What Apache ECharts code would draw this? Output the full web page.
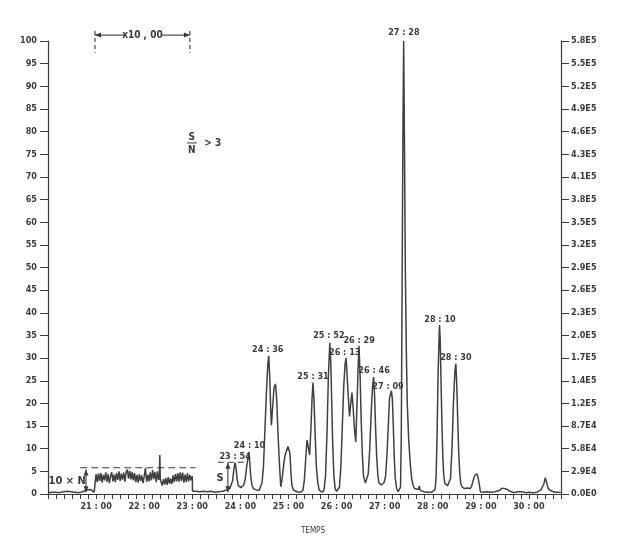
<!DOCTYPE html>
<html><head><meta charset="utf-8">
<script src="https://cdn.jsdelivr.net/npm/echarts@6/dist/echarts.min.js"></script>
<style>html,body{margin:0;padding:0;background:#ffffff;}#c{width:620px;height:547px;}</style>
</head><body><div id="c"></div>
<script>
// ---- data (time in minutes, relative abundance %) ----
const rightTickLabels = ['0.0E0','2.9E4','5.8E4','8.7E4','1.2E5','1.4E5','1.7E5','2.0E5','2.3E5','2.6E5','2.9E5','3.2E5','3.5E5','3.8E5','4.1E5','4.3E5','4.6E5','4.9E5','5.2E5','5.5E5','5.8E5'];

const baselineStart = [[20.00,0.3],[20.04,0.5],[20.08,0.4],[20.12,0.6],[20.16,0.4],[20.20,0.5],[20.24,0.3],[20.28,0.6],[20.32,0.5],[20.36,0.4],[20.40,0.6],[20.44,0.3],[20.48,0.5],[20.52,0.7],[20.56,0.4],[20.60,0.5],[20.64,0.3],[20.68,0.6],[20.72,0.5],[20.76,0.7],[20.80,0.9],[20.84,1.1],[20.88,1.0],[20.92,0.6],[20.96,0.4],[20.995,0.5]];

const noiseX10 = [[21.000,4.4],[21.025,2.6],[21.050,4.5],[21.075,2.9],[21.100,4.6],[21.125,2.5],[21.150,4.2],[21.175,3.0],[21.200,4.8],[21.225,2.7],[21.250,4.4],[21.275,2.4],[21.300,3.9],[21.325,4.8],[21.350,2.8],[21.375,4.3],[21.400,2.6],[21.425,4.6],[21.450,3.1],[21.475,5.0],[21.500,2.9],[21.525,4.5],[21.550,3.2],[21.575,4.7],[21.600,2.7],[21.625,4.9],[21.650,5.4],[21.675,3.4],[21.700,5.1],[21.725,3.2],[21.750,4.9],[21.775,3.0],[21.800,4.6],[21.825,2.6],[21.850,4.2],[21.875,2.5],[21.900,4.4],[21.925,2.9],[21.950,4.1],[21.975,2.4],[22.000,3.9],[22.025,5.7],[22.050,2.7],[22.075,4.3],[22.100,2.8],[22.125,4.8],[22.150,3.0],[22.175,5.3],[22.200,3.3],[22.225,4.9],[22.250,2.6],[22.275,5.0],[22.300,3.1],[22.315,4.0],[22.325,8.6],[22.335,3.2],[22.350,2.8],[22.375,1.9],[22.400,3.3],[22.425,2.1],[22.450,3.5],[22.475,2.0],[22.500,3.7],[22.525,2.3],[22.550,3.4],[22.575,2.2],[22.600,4.1],[22.625,2.6],[22.650,4.4],[22.675,2.8],[22.700,4.6],[22.725,2.7],[22.750,4.8],[22.775,2.9],[22.800,4.7],[22.825,2.5],[22.850,4.3],[22.875,2.6],[22.900,4.6],[22.925,2.8],[22.950,4.2],[22.975,3.0],[23.000,3.9],[23.005,0.6]];

const peaksTrace = [[23.03,0.4],[23.07,0.6],[23.11,0.4],[23.15,0.5],[23.19,0.3],[23.23,0.6],[23.27,0.4],[23.31,0.5],[23.35,0.4],[23.39,0.6],[23.43,0.5],[23.47,0.4],[23.51,0.6],[23.55,0.5],[23.59,0.7],[23.63,0.6],[23.67,0.8],[23.71,0.9],[23.75,1.0],[23.78,1.2],
[23.81,1.5],[23.84,3.0],[23.865,5.5],[23.89,6.9],[23.91,5.8],[23.93,3.5],[23.955,1.9],[23.98,1.5],[24.01,1.4],[24.04,1.6],[24.07,2.0],[24.10,3.2],[24.13,6.0],[24.175,9.0],[24.195,7.0],[24.215,4.0],[24.24,2.0],[24.27,1.2],[24.30,1.0],[24.33,0.9],[24.36,1.0],[24.39,0.8],[24.42,1.2],[24.45,2.5],
[24.48,6],[24.51,14],[24.54,22],[24.57,28.5],[24.59,30.5],[24.61,26],[24.63,19],[24.645,15.2],[24.67,19],[24.70,23.5],[24.73,24.3],[24.755,21],[24.78,14],[24.81,7],[24.84,1.6],[24.87,3.5],[24.90,6.5],[24.93,8.6],[24.96,9.0],[24.99,10.5],[25.01,10.8],[25.03,9.0],[25.05,5.0],[25.07,2.0],[25.10,0.9],[25.13,0.6],[25.17,0.5],[25.21,0.6],[25.25,0.4],[25.28,0.5],
[25.30,0.8],[25.33,3.0],[25.36,8.0],[25.385,11.9],[25.41,10.5],[25.44,8.6],[25.465,14],[25.49,21],[25.51,24.6],[25.53,21],[25.555,13],[25.58,6],[25.61,2.5],[25.64,0.8],[25.67,0.5],[25.71,0.4],[25.74,0.9],[25.77,4],[25.80,13],[25.83,26],[25.86,33.4],[25.88,29],[25.90,20],[25.92,11],[25.945,4],[25.97,1.2],[26.00,0.6],[26.03,0.5],
[26.06,1.5],[26.09,6],[26.12,15],[26.15,24],[26.18,29],[26.20,30.0],[26.235,23],[26.27,17.1],[26.30,20.5],[26.32,22.4],[26.345,19],[26.375,14],[26.40,11.5],[26.42,18],[26.445,27],[26.466,32.7],[26.49,26],[26.51,17],[26.535,9],[26.56,4],[26.60,2.4],[26.63,2.8],[26.66,4.5],[26.69,10],[26.72,18],[26.75,24],[26.77,25.8],[26.79,22],[26.81,15],[26.835,8],[26.86,4],[26.88,2.5],[26.93,2.0],[26.96,2.2],[26.99,2.6],
[27.02,4],[27.05,9],[27.08,16],[27.10,21],[27.12,22.0],[27.14,22.8],[27.16,21],[27.18,15],[27.20,8],[27.22,3.5],[27.25,1.2],[27.28,0.5],[27.31,0.5],[27.33,1.5],[27.345,12],[27.355,30],[27.365,50],[27.38,80],[27.395,100],[27.41,80],[27.43,50],[27.45,32],[27.47,20],[27.50,12],[27.53,7],[27.56,3.5],[27.59,2.0],[27.62,1.2],[27.65,0.9],[27.70,1.0],[27.72,1.8],[27.74,0.8],[27.78,0.4],[27.82,0.5],[27.86,0.3],[27.90,0.4],[27.94,0.5],[27.98,0.4],[28.02,0.5],
[28.05,1.0],[28.07,4],[28.09,13],[28.11,26],[28.13,34],[28.14,37.3],[28.155,34],[28.17,26],[28.19,16],[28.21,8],[28.23,4],[28.25,2.4],[28.28,2.2],[28.31,1.8],[28.34,2.2],[28.37,3.5],[28.40,10],[28.43,20],[28.46,27],[28.48,28.8],[28.50,24],[28.52,16],[28.54,9],[28.56,5],[28.58,2.5],[28.605,1.6],[28.63,1.4],[28.66,1.2],[28.69,1.5],[28.72,1.3],[28.75,1.0],[28.78,1.2],[28.81,1.8],[28.84,3.0],[28.87,4.0],[28.91,4.5],[28.94,3.8],[28.97,2.0],[28.99,0.5],
[29.01,0.4],[29.05,0.4],[29.09,0.3],[29.13,0.5],[29.17,0.3],[29.21,0.4],[29.25,0.3],[29.29,0.5],[29.33,0.4],[29.37,0.7],[29.41,1.0],[29.45,1.3],[29.49,1.4],[29.53,1.1],[29.57,0.8],[29.61,0.6],[29.65,0.5],[29.69,0.3],[29.73,0.4],[29.77,0.5],[29.81,0.3],[29.85,0.5],[29.89,0.4],[29.93,0.3],[29.97,0.5],[30.01,0.4],[30.05,0.5],[30.09,0.3],[30.13,0.5],[30.17,0.4],[30.21,0.6],[30.25,0.9],[30.28,1.3],[30.31,2.2],[30.34,3.6],[30.37,2.5],[30.40,1.2],[30.43,1.0],[30.46,0.7],[30.50,0.5],[30.54,0.4],[30.58,0.3],[30.62,0.4],[30.66,0.3]];

// peak retention-time labels: [text, time, value] (label centre)
const peakLabels = [['23 : 54',23.89,8.2],['24 : 10',24.19,10.6],['24 : 36',24.57,31.8],['25 : 31',25.51,25.8],['25 : 52',25.84,34.9],['26 : 13',26.17,31.3],['26 : 29',26.47,33.8],['26 : 46',26.78,27.2],['27 : 09',27.07,23.8],['27 : 28',27.40,101.8],['28 : 10',28.15,38.4],['28 : 30',28.48,30.2]];

const trace = baselineStart.concat(noiseX10, peaksTrace);

const INK = '#3a3a3a';
const FONT = "'DejaVu Sans Condensed','Liberation Sans Narrow','Roboto Condensed','DejaVu Sans',sans-serif";

const chart = echarts.init(document.getElementById('c'), null, {renderer:'canvas'});
const labelStyle = {color: INK, fontFamily: FONT, fontSize: 9, fontWeight: 'bold'};
chart.setOption({
  backgroundColor: '#ffffff',
  animation: false,
  grid: {left: 48, right: 59, top: 41, bottom: 53, containLabel: false},
  xAxis: {
    type: 'value', min: 20, max: 20 + 64/6, interval: 1/6,
    axisLine: {show: true, onZero: false, lineStyle: {color: INK, width: 1.2}},
    axisTick: {show: true, length: 5, inside: false, lineStyle: {color: INK, width: 1}},
    splitLine: {show: false},
    axisLabel: Object.assign({margin: 8, interval: 0, showMinLabel: true, showMaxLabel: true,
      formatter: function (v) {
        const r = Math.round(v);
        if (Math.abs(v - r) < 0.01 && r > 20 && r <= 30) return r + ' : 00';
        return '';
      }}, labelStyle)
  },
  yAxis: [{
    type: 'value', min: 0, max: 100, interval: 5, position: 'left',
    axisLine: {show: true, lineStyle: {color: INK, width: 1.2}},
    axisTick: {show: true, length: 8, lineStyle: {color: INK, width: 1}},
    splitLine: {show: false},
    axisLabel: Object.assign({margin: 11}, labelStyle)
  }, {
    type: 'value', min: 0, max: 100, interval: 5, position: 'right',
    axisLine: {show: true, lineStyle: {color: INK, width: 1.2}},
    axisTick: {show: true, length: 8, lineStyle: {color: INK, width: 1}},
    splitLine: {show: false},
    axisLabel: Object.assign({margin: 10, formatter: function (v) { return rightTickLabels[Math.round(v / 5)] || ''; }}, labelStyle)
  }],
  series: [{
    type: 'line', data: trace, showSymbol: false, symbol: 'none', clip: false,
    lineStyle: {color: '#404040', width: 1.5}, z: 3
  }]
});

function P(t, v) { return chart.convertToPixel({gridIndex: 0}, [t, v]); }
const g = [];
function line(a, b, dash, w) {
  g.push({type: 'line', shape: {x1: a[0], y1: a[1], x2: b[0], y2: b[1]}, style: {stroke: INK, lineWidth: w || 1.1, lineDash: dash || null}, z: 10});
}
function head(p, dir) {
  const L = 6, W = 2.5; let pts;
  if (dir === 'up') pts = [[p[0], p[1]], [p[0] - W, p[1] + L], [p[0] + W, p[1] + L]];
  if (dir === 'down') pts = [[p[0], p[1]], [p[0] - W, p[1] - L], [p[0] + W, p[1] - L]];
  if (dir === 'left') pts = [[p[0], p[1]], [p[0] + L, p[1] - W], [p[0] + L, p[1] + W]];
  if (dir === 'right') pts = [[p[0], p[1]], [p[0] - L, p[1] - W], [p[0] - L, p[1] + W]];
  g.push({type: 'polygon', shape: {points: pts}, style: {fill: INK}, z: 10});
}
function text(p, s, opt) {
  g.push({type: 'text', x: p[0], y: p[1], style: Object.assign({text: s, fill: INK, font: 'bold 9px ' + FONT, textAlign: 'center', textVerticalAlign: 'middle'}, opt || {}), z: 11});
}

// 10 x N annotation
line(P(20.67, 5.8), P(23.07, 5.8), [7, 4]);
const nA = P(20.79, 0.4), nB = P(20.79, 5.4);
line(nA, nB); head(nA, 'down'); head(nB, 'up');
text(P(20.40, 2.9), '10 × N', {font: 'bold 11px ' + FONT});

// S annotation
line(P(23.53, 7.0), P(24.12, 7.0), [6, 4]);
const sA = P(23.74, 0.4), sB = P(23.74, 6.9);
line(sA, sB); head(sA, 'down'); head(sB, 'up');
text(P(23.58, 3.5), 'S', {font: 'bold 11px ' + FONT});

// x10,00 span at top
const t1 = 20.977, t2 = 22.95;
line(P(t1, 102.2), P(t1, 97.4), [4, 3]);
line(P(t2, 102.2), P(t2, 97.4), [4, 3]);
const lA = P(t1, 101.3), lB = P(t2, 101.3);
line(lA, [lA[0] + 31, lA[1]]); head(lA, 'left');
line([lB[0] - 29, lB[1]], lB); head(lB, 'right');
text([ (lA[0] + lB[0]) / 2, lA[1] ], 'x10 , 00', {font: 'bold 10px ' + FONT});

// S/N > 3
const sn = P(22.99, 77.5);
text([sn[0], sn[1] - 6], 'S', {font: 'bold 10px ' + FONT});
line([sn[0] - 5, sn[1]], [sn[0] + 5, sn[1]], null, 1);
text([sn[0], sn[1] + 7], 'N', {font: 'bold 10px ' + FONT});
text([sn[0] + 21, sn[1]], '> 3', {font: 'bold 10px ' + FONT});

// peak labels
peakLabels.forEach(function (d) { text(P(d[1], d[2]), d[0]); });

// axis title
text(P(25.51, -8.2), 'TEMPS', {font: '8px ' + FONT});

chart.setOption({graphic: g});
</script></body></html>
